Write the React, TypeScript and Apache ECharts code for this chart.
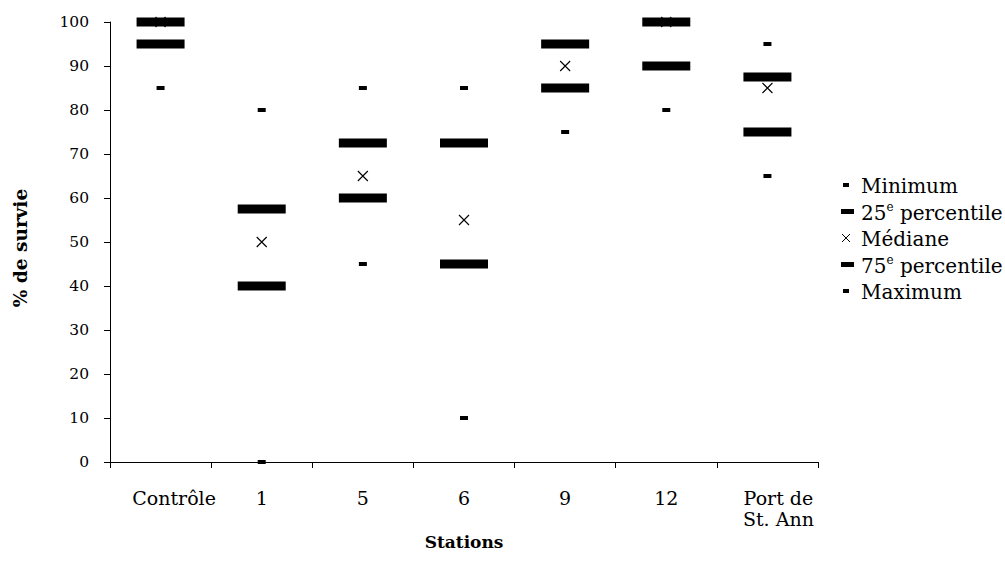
import React, { useEffect, useRef } from "react";
import * as echarts from "echarts";

const categories = ["Contrôle", "1", "5", "6", "9", "12", "Port de St. Ann"];
const minimum = [85, 0, 45, 10, 75, 80, 65];
const p25 = [95, 40, 60, 45, 85, 90, 75];
const median = [100, 50, 65, 55, 90, 100, 85];
const p75 = [100, 57.5, 72.5, 72.5, 95, 100, 87.5];
const maximum = [100, 80, 85, 85, 95, 100, 95];
const yTicks = [0, 10, 20, 30, 40, 50, 60, 70, 80, 90, 100];

const legendItems = [
  { kind: "small", label: "{n|Minimum}" },
  { kind: "thick", label: "{n|25}{s|e}{n| percentile}" },
  { kind: "cross", label: "{n|Médiane}" },
  { kind: "thick", label: "{n|75}{s|e}{n| percentile}" },
  { kind: "small", label: "{n|Maximum}" },
];

const FONT = "DejaVu Serif";

export default function App() {
  const ref = useRef<HTMLDivElement>(null);
  useEffect(() => {
    if (!ref.current) return;
    const chart = echarts.init(ref.current, null, { renderer: "svg" });
    const crossPath = "path://M0,0L10,10M10,0L0,10";
    const graphics: any[] = [];
    const legendY0 = 185;
    const legendStep = 26.5;
    legendItems.forEach((it, i) => {
      const cy = legendY0 + i * legendStep;
      if (it.kind === "small") {
        graphics.push({ type: "rect", shape: { x: 843, y: cy - 2, width: 6, height: 4 }, style: { fill: "#000" } });
      } else if (it.kind === "thick") {
        graphics.push({ type: "rect", shape: { x: 841, y: cy - 2.5, width: 13, height: 5 }, style: { fill: "#000" } });
      } else {
        graphics.push({ type: "line", shape: { x1: 842, y1: cy - 4, x2: 850, y2: cy + 4 }, style: { stroke: "#000", lineWidth: 1 } });
        graphics.push({ type: "line", shape: { x1: 850, y1: cy - 4, x2: 842, y2: cy + 4 }, style: { stroke: "#000", lineWidth: 1 } });
      }
      graphics.push({
        type: "text",
        x: 861,
        y: cy,
        style: {
          text: it.label,
          fontFamily: FONT,
          fontSize: 20,
          fill: "#000",
          verticalAlign: "middle",
          rich: {
            n: { fontFamily: FONT, fontSize: 20, fill: "#000", lineHeight: 22, verticalAlign: "bottom" },
            s: { fontFamily: FONT, fontSize: 12, fill: "#000", lineHeight: 22, verticalAlign: "top" },
          },
        },
      });
    });

    const mk = (name: string, data: number[], symbol: string, size: any, extra: any = {}) => ({
      name,
      type: "scatter",
      data,
      symbol,
      symbolSize: size,
      itemStyle: { color: "#000", opacity: 1, ...extra },
      silent: true,
    });

    chart.setOption({
      animation: false,
      backgroundColor: "#fff",
      textStyle: { fontFamily: FONT },
      grid: { left: 110, right: 187, top: 22, bottom: 115, containLabel: false },
      xAxis: {
        type: "category",
        data: categories,
        boundaryGap: true,
        name: "Stations",
        nameLocation: "middle",
        nameGap: 68,
        nameTextStyle: { fontFamily: FONT, fontSize: 17, fontWeight: "bold", color: "#000" },
        axisLine: { lineStyle: { color: "#000", width: 1 } },
        axisTick: { show: true, alignWithLabel: false, length: 6, lineStyle: { color: "#000" } },
        axisLabel: {
          margin: 25,
          interval: 0,
          color: "#000",
          fontFamily: FONT,
          fontSize: 19,
          lineHeight: 21,
          formatter: (v: string) => {
            if (v === "Contrôle") return "{c|Contrôle}";
            if (v === "Port de St. Ann") return "{p|Port de}\n{p|St. Ann}";
            return "{d|" + v + "}";
          },
          rich: {
            c: { fontFamily: FONT, fontSize: 19, color: "#000", lineHeight: 21, padding: [0, 0, 0, 27] },
            p: { fontFamily: FONT, fontSize: 19, color: "#000", lineHeight: 21, padding: [0, 0, 0, 22] },
            d: { fontFamily: FONT, fontSize: 19, color: "#000", lineHeight: 21 },
          },
        },
        splitLine: { show: false },
      },
      yAxis: {
        type: "value",
        min: yTicks[0],
        max: yTicks[yTicks.length - 1],
        interval: 10,
        name: "% de survie",
        nameLocation: "middle",
        nameGap: 80,
        nameTextStyle: { fontFamily: FONT, fontSize: 18.5, fontWeight: "bold", color: "#000", padding: [0, 12, 0, 0] },
        axisLine: { show: true, lineStyle: { color: "#000", width: 1 } },
        axisTick: { show: true, length: 6, lineStyle: { color: "#000" } },
        axisLabel: { margin: 21, color: "#000", fontFamily: FONT, fontSize: 15.5 },
        splitLine: { show: false },
      },
      series: [
        mk("Minimum", minimum, "rect", [8, 4]),
        mk("25e percentile", p25, "rect", [48, 9]),
        mk("Médiane", median, crossPath, [10, 10], { color: "transparent", borderColor: "#000", borderWidth: 1.1 }),
        mk("75e percentile", p75, "rect", [48, 9]),
        mk("Maximum", maximum, "rect", [8, 4]),
      ],
      graphic: graphics,
    });
    return () => chart.dispose();
  }, []);
  return <div ref={ref} style={{ width: 1005, height: 577, position: "absolute", left: 0, top: 0 }} />;
}
